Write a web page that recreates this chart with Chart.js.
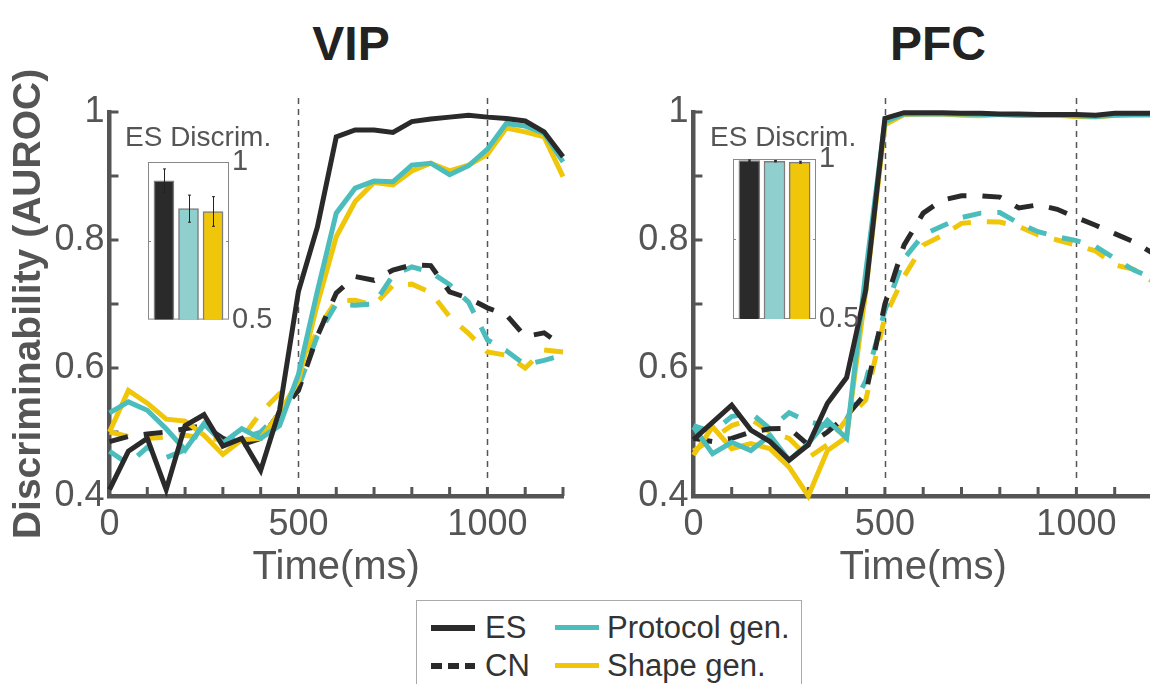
<!DOCTYPE html>
<html>
<head>
<meta charset="utf-8">
<title>ES / CN discriminability, VIP and PFC</title>
<script src="https://cdn.jsdelivr.net/npm/chart.js@4.4.1/dist/chart.umd.min.js"></script>
<style>
  html, body {
    margin: 0;
    padding: 0;
    width: 1150px;
    height: 684px;
    overflow: hidden;
    background: #fff;
    position: relative;
    font-family: "Liberation Sans", Arial, sans-serif;
  }
  canvas { position: absolute; }
  .panel-title {
    position: absolute;
    top: 20px;
    font-size: 48px;
    line-height: 48px;
    font-weight: bold;
    color: #222;
    transform: translateX(-50%);
  }
  .inset-label {
    position: absolute;
    top: 123px;
    font-size: 28px;
    line-height: 28px;
    color: #555;
    white-space: nowrap;
  }
  #legend {
    position: absolute;
    left: 416px;
    top: 600px;
    width: 384px;
    height: 100px;
    border: 1.5px solid #aaa;
    background: #fff;
    z-index: 5;
  }
  #legend .swatch { position: absolute; width: 44px; }
  #legend .txt {
    position: absolute;
    font-size: 31px;
    line-height: 34px;
    color: #333;
    white-space: nowrap;
  }
</style>
</head>
<body>

<div class="panel-title" style="left:351px">VIP</div>
<div class="panel-title" style="left:938px">PFC</div>

<canvas id="vipChart" width="580" height="540" style="left:0;top:60px"></canvas>
<canvas id="pfcChart" width="575" height="540" style="left:585px;top:60px"></canvas>
<canvas id="vipInset" width="170" height="240" style="left:120px;top:100px"></canvas>
<canvas id="pfcInset" width="170" height="240" style="left:705px;top:100px"></canvas>

<div class="inset-label" style="left:125px">ES Discrim.</div>
<div class="inset-label" style="left:710px">ES Discrim.</div>

<div id="legend">
  <div class="swatch" style="left:14px;top:24px;height:6px;background:#2a2a2a"></div>
  <div class="txt" style="left:68px;top:10px">ES</div>
  <div class="swatch" style="left:138px;top:24px;height:5px;background:#4bbdbd"></div>
  <div class="txt" style="left:190px;top:10px">Protocol gen.</div>
  <div class="swatch" style="left:14px;top:62px;height:6px;background:repeating-linear-gradient(90deg,#2a2a2a 0 11px,transparent 11px 17px)"></div>
  <div class="txt" style="left:68px;top:48px">CN</div>
  <div class="swatch" style="left:138px;top:62px;height:5px;background:#efc60a"></div>
  <div class="txt" style="left:190px;top:48px">Shape gen.</div>
</div>

<script>
// time bins (ms)
const timeMs = [0, 50, 100, 150, 200, 250, 300, 350, 400, 450, 500, 550, 600,
                650, 700, 750, 800, 850, 900, 950, 1000, 1050, 1100, 1150, 1200];
const xLabelled = [0, 500, 1000];
const yLabelled = [0.4, 0.6, 0.8, 1];
const markerTimes = [500, 1000];

// VIP: AUROC per time bin
const vipES       = [0.41, 0.47, 0.49, 0.41, 0.51, 0.527, 0.478, 0.49, 0.44, 0.534, 0.72, 0.82, 0.961, 0.972, 0.972, 0.968, 0.985, 0.989, 0.992, 0.995, 0.992, 0.99, 0.986, 0.969, 0.93];
const vipProto    = [0.53, 0.547, 0.534, 0.505, 0.472, 0.513, 0.483, 0.505, 0.49, 0.51, 0.59, 0.72, 0.842, 0.881, 0.892, 0.891, 0.917, 0.92, 0.902, 0.916, 0.942, 0.982, 0.978, 0.967, 0.922];
const vipShape    = [0.50, 0.565, 0.545, 0.52, 0.517, 0.495, 0.465, 0.488, 0.49, 0.53, 0.58, 0.70, 0.805, 0.86, 0.89, 0.886, 0.908, 0.92, 0.908, 0.917, 0.934, 0.975, 0.969, 0.961, 0.899];
const vipCN       = [0.485, 0.493, 0.497, 0.50, 0.505, 0.51, 0.49, 0.48, 0.49, 0.53, 0.565, 0.65, 0.717, 0.743, 0.737, 0.753, 0.761, 0.76, 0.719, 0.709, 0.694, 0.683, 0.649, 0.655, 0.634];
const vipProtoCN  = [0.47, 0.45, 0.476, 0.46, 0.472, 0.511, 0.485, 0.49, 0.50, 0.53, 0.57, 0.65, 0.70, 0.698, 0.70, 0.745, 0.758, 0.75, 0.73, 0.703, 0.644, 0.627, 0.605, 0.612, 0.62];
const vipShapeCN  = [0.50, 0.493, 0.49, 0.492, 0.495, 0.49, 0.488, 0.49, 0.53, 0.56, 0.58, 0.66, 0.705, 0.706, 0.698, 0.729, 0.731, 0.718, 0.68, 0.654, 0.625, 0.62, 0.60, 0.628, 0.625];

// PFC: AUROC per time bin
const pfcES       = [0.488, 0.515, 0.542, 0.503, 0.485, 0.456, 0.48, 0.545, 0.585, 0.722, 0.99, 0.999, 0.999, 0.999, 0.998, 0.998, 0.997, 0.997, 0.996, 0.996, 0.996, 0.995, 0.998, 0.998, 0.998];
const pfcProto    = [0.508, 0.466, 0.484, 0.471, 0.495, 0.456, 0.482, 0.518, 0.49, 0.75, 0.985, 0.997, 0.997, 0.997, 0.997, 0.996, 0.996, 0.995, 0.995, 0.995, 0.994, 0.993, 0.995, 0.996, 0.996];
const pfcShape    = [0.464, 0.508, 0.474, 0.482, 0.474, 0.445, 0.40, 0.471, 0.492, 0.72, 0.98, 0.996, 0.997, 0.997, 0.995, 0.994, 0.996, 0.995, 0.995, 0.995, 0.993, 0.992, 0.995, 0.995, 0.995];
const pfcCN       = [0.49, 0.485, 0.49, 0.50, 0.505, 0.506, 0.48, 0.50, 0.525, 0.56, 0.70, 0.792, 0.842, 0.8625, 0.869, 0.869, 0.867, 0.85, 0.855, 0.848, 0.835, 0.823, 0.81, 0.797, 0.779];
const pfcProtoCN  = [0.51, 0.50, 0.524, 0.53, 0.505, 0.53, 0.516, 0.51, 0.52, 0.58, 0.69, 0.771, 0.808, 0.822, 0.835, 0.842, 0.843, 0.826, 0.813, 0.805, 0.799, 0.79, 0.771, 0.753, 0.74];
const pfcShapeCN  = [0.47, 0.49, 0.51, 0.52, 0.50, 0.49, 0.46, 0.48, 0.52, 0.55, 0.68, 0.743, 0.792, 0.807, 0.826, 0.829, 0.828, 0.821, 0.808, 0.80, 0.792, 0.783, 0.761, 0.754, 0.735];

// ES discrimination summary (insets)
const insetGroups  = ['ES', 'Protocol gen.', 'Shape gen.'];
const insetPos     = [1, 2, 3];
const vipBars      = [0.94, 0.852, 0.843];
const vipBarsLow   = [0.902, 0.809, 0.796];
const vipBarsHigh  = [0.978, 0.895, 0.89];
const pfcBars      = [0.995, 0.993, 0.99];
const pfcBarsLow   = [0.993, 0.991, 0.987];
const pfcBarsHigh  = [0.997, 0.995, 0.993];

const COLOR_ES = '#2a2a2a';
const COLOR_PROTO = '#4bbdbd';
const COLOR_SHAPE = '#efc60a';
const AXIS_GRAY = '#555';
const FONT = '"Liberation Sans", Arial, sans-serif';

function toPoints(values) {
    return values.map((v, i) => ({ x: timeMs[i], y: v }));
}

function isLabelled(list, v) {
    return list.some(l => Math.abs(l - v) < 1e-6);
}

/**
 * Dashed stimulus markers and inward tick marks
 */
const axisDecor = {
    id: 'axisDecor',
    beforeDatasetsDraw(chart) {
        const { ctx, chartArea: a, scales: { x, y } } = chart;
        ctx.save();
        ctx.strokeStyle = AXIS_GRAY;
        ctx.lineWidth = 1.5;
        ctx.setLineDash([6, 5]);
        markerTimes.forEach(t => {
            const px = Math.round(x.getPixelForValue(t)) + 0.5;
            ctx.beginPath();
            ctx.moveTo(px, a.top - 14);
            ctx.lineTo(px, a.bottom - 14);
            ctx.stroke();
        });

        ctx.setLineDash([]);
        ctx.lineWidth = 3;
        x.ticks.forEach(t => {
            const px = x.getPixelForValue(t.value);
            ctx.beginPath();
            ctx.moveTo(px, a.bottom);
            ctx.lineTo(px, a.bottom - 9);
            ctx.stroke();
        });
        y.ticks.forEach(t => {
            const py = y.getPixelForValue(t.value);
            ctx.beginPath();
            ctx.moveTo(a.left, py);
            ctx.lineTo(a.left + 9, py);
            ctx.stroke();
        });
        ctx.restore();
    }
};

function lineSet(label, values, color, dashed) {
    return {
        label: label,
        data: toPoints(values),
        borderColor: color,
        borderWidth: 5,
        borderDash: dashed ? [19, 16] : [],
        borderJoinStyle: 'miter',
        borderCapStyle: 'butt',
        pointRadius: 0,
        tension: 0,
        fill: false,
        clip: false
    };
}

function renderPanel(canvasId, s, layout) {
    const ctx = document.getElementById(canvasId);
    return new Chart(ctx.getContext('2d'), {
        type: 'line',
        data: {
            datasets: [
                lineSet('ES', s.es, COLOR_ES, false),
                lineSet('Protocol gen.', s.proto, COLOR_PROTO, false),
                lineSet('Shape gen.', s.shape, COLOR_SHAPE, false),
                lineSet('CN', s.cn, COLOR_ES, true),
                lineSet('CN Protocol gen.', s.protoCN, COLOR_PROTO, true),
                lineSet('CN Shape gen.', s.shapeCN, COLOR_SHAPE, true)
            ]
        },
        options: {
            responsive: false,
            animation: false,
            devicePixelRatio: 1,
            layout: { padding: { left: 0, top: 52, right: layout.right, bottom: 0 } },
            plugins: {
                legend: { display: false },
                tooltip: { enabled: false }
            },
            scales: {
                x: {
                    type: 'linear',
                    min: 0,
                    max: 1200,
                    ticks: {
                        stepSize: 100,
                        autoSkip: false,
                        maxRotation: 0,
                        padding: 7,
                        color: AXIS_GRAY,
                        font: { family: FONT, size: 36 },
                        callback: v => isLabelled(xLabelled, v) ? String(v) : ''
                    },
                    grid: { display: false, drawTicks: false },
                    border: { display: true, color: AXIS_GRAY, width: 4.5 },
                    title: {
                        display: true,
                        text: 'Time(ms)',
                        color: AXIS_GRAY,
                        font: { family: FONT, size: 40 },
                        padding: { top: 0, bottom: 8 }
                    },
                    afterFit: sc => { sc.height = 104; }
                },
                y: {
                    min: 0.4,
                    max: 1,
                    ticks: {
                        stepSize: 0.1,
                        autoSkip: false,
                        padding: 5,
                        color: AXIS_GRAY,
                        font: { family: FONT, size: 36 },
                        callback: v => isLabelled(yLabelled, v) ? (v === 1 ? '1' : v.toFixed(1)) : ''
                    },
                    grid: { display: false, drawTicks: false },
                    border: { display: true, color: AXIS_GRAY, width: 4.5 },
                    title: {
                        display: layout.yTitle,
                        text: 'Discriminability (AUROC)',
                        color: AXIS_GRAY,
                        font: { family: FONT, size: 39, weight: 'bold' },
                        padding: { top: 6, bottom: 0 }
                    },
                    afterFit: sc => { sc.width = layout.yWidth; }
                }
            }
        },
        plugins: [axisDecor]
    });
}

/**
 * Inset frame with mid ticks, and error bars on the summary bars
 */
const insetFrame = {
    id: 'insetFrame',
    beforeDatasetsDraw(chart) {
        const { ctx, chartArea: a, scales: { y } } = chart;
        ctx.save();
        ctx.strokeStyle = '#888';
        ctx.lineWidth = 1;
        ctx.strokeRect(a.left + 0.5, a.top + 0.5, a.right - a.left - 1, a.bottom - a.top - 1);
        const mid = Math.round(y.getPixelForValue(0.75)) + 0.5;
        ctx.beginPath();
        ctx.moveTo(a.left, mid); ctx.lineTo(a.left + 3, mid);
        ctx.moveTo(a.right, mid); ctx.lineTo(a.right - 3, mid);
        ctx.stroke();
        ctx.restore();
    }
};

const errorBars = {
    id: 'errorBars',
    afterDatasetsDraw(chart, args, opts) {
        const { ctx, scales: { x, y } } = chart;
        ctx.save();
        ctx.strokeStyle = '#222';
        ctx.lineWidth = 1;
        insetPos.forEach((p, i) => {
            const px = Math.round(x.getPixelForValue(p)) + 0.5;
            const hi = y.getPixelForValue(opts.high[i]);
            const lo = y.getPixelForValue(opts.low[i]);
            ctx.beginPath();
            ctx.moveTo(px, hi); ctx.lineTo(px, lo);
            ctx.moveTo(px - 1.5, hi); ctx.lineTo(px + 1.5, hi);
            ctx.moveTo(px - 1.5, lo); ctx.lineTo(px + 1.5, lo);
            ctx.stroke();
        });
        ctx.restore();
    }
};

function renderInset(canvasId, means, low, high, frame) {
    const ctx = document.getElementById(canvasId);
    return new Chart(ctx.getContext('2d'), {
        type: 'bar',
        data: {
            labels: insetGroups,
            datasets: [{
                data: means.map((v, i) => ({ x: insetPos[i], y: v })),
                backgroundColor: [COLOR_ES, '#8fd0cf', COLOR_SHAPE],
                borderColor: '#7d7d7d',
                borderWidth: 1.5,
                borderSkipped: false,
                barThickness: frame.barWidth
            }]
        },
        options: {
            responsive: false,
            animation: false,
            devicePixelRatio: 1,
            layout: { padding: { left: 28, top: frame.top, right: 0, bottom: frame.bottom } },
            plugins: {
                legend: { display: false },
                tooltip: { enabled: false },
                errorBars: { low: low, high: high }
            },
            scales: {
                x: { type: 'linear', min: 0.35, max: 3.65, offset: false, display: false },
                y: {
                    position: 'right',
                    min: 0.5,
                    max: 1,
                    ticks: {
                        stepSize: 0.25,
                        padding: 3,
                        color: AXIS_GRAY,
                        font: { family: FONT, size: 29 },
                        callback: v => v === 1 ? '1' : (v === 0.5 ? '0.5' : '')
                    },
                    grid: { display: false, drawTicks: false },
                    border: { display: false },
                    afterFit: sc => { sc.width = frame.axisWidth; }
                }
            }
        },
        plugins: [insetFrame, errorBars]
    });
}

renderPanel('vipChart', {
    es: vipES, proto: vipProto, shape: vipShape,
    cn: vipCN, protoCN: vipProtoCN, shapeCN: vipShapeCN
}, { yWidth: 109.5, right: 17, yTitle: true });

renderPanel('pfcChart', {
    es: pfcES, proto: pfcProto, shape: pfcShape,
    cn: pfcCN, protoCN: pfcProtoCN, shapeCN: pfcShapeCN
}, { yWidth: 108.4, right: 7, yTitle: false });

renderInset('vipInset', vipBars, vipBarsLow, vipBarsHigh,
    { top: 62, bottom: 19, axisWidth: 61, barWidth: 20 });
renderInset('pfcInset', pfcBars, pfcBarsLow, pfcBarsHigh,
    { top: 59, bottom: 21, axisWidth: 59, barWidth: 21 });
</script>
</body>
</html>
